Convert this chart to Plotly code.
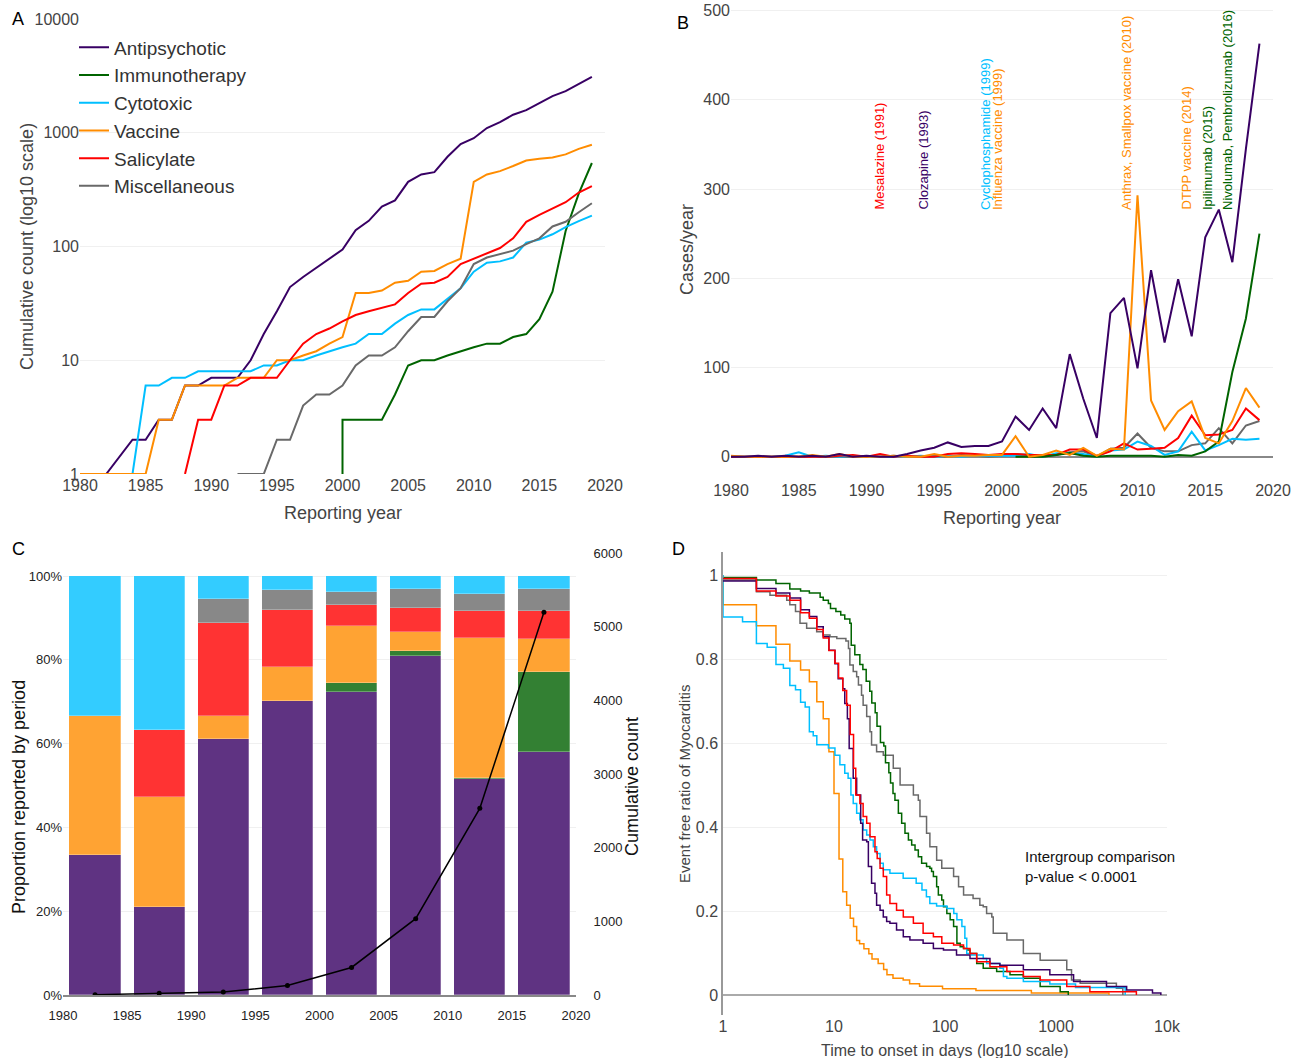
import plotly.graph_objects as go

W, H = 1296, 1058
def fx(px):
    return px / W
def fy(py):
    return 1 - py / H

FONT = "Liberation Sans, Arial, sans-serif"

# ---------------- colours ----------------
COL = {
    "Antipsychotic": "#380064",
    "Immunotherapy": "#006400",
    "Cytotoxic": "#00BFFF",
    "Vaccine": "#FF8C00",
    "Salicylate": "#FF0000",
    "Miscellaneous": "#696969",
}

# ---------------- Panel A: cumulative counts (log scale) ----------------
anti_years = [1982, 1984, 1985, 1986, 1987, 1988, 1989, 1990, 1991, 1992, 1993, 1994, 1995, 1996,
              1997, 1998, 1999, 2000, 2001, 2002, 2003, 2004, 2005, 2006, 2007, 2008, 2009, 2010,
              2011, 2012, 2013, 2014, 2015, 2016, 2017, 2018, 2019]
anti_cum = [1, 2, 2, 3, 3, 6, 6, 7, 7, 7, 10, 17, 27, 44, 54, 65, 77, 94, 139, 168, 224, 254, 370,
            430, 450, 615, 795, 895, 1100, 1240, 1440, 1580, 1820, 2100, 2320, 2670, 3100]

immuno_years = [2000, 2000, 2001, 2002, 2003, 2004, 2005, 2006, 2007, 2008, 2009, 2010, 2011, 2012,
                2013, 2014, 2015, 2016, 2017, 2018, 2019]
immuno_cum = [1, 3, 3, 3, 3, 5, 9, 10, 10, 11, 12, 13, 14, 14, 16, 17, 23, 40, 137, 292, 542]

cyto_years = list(range(1984, 2020))
cyto_cum = [1, 6, 6, 7, 7, 8, 8, 8, 8, 8, 9, 9, 10, 10, 11, 12, 13, 14, 17, 17, 21, 25, 28, 28, 35,
            43, 60, 72, 74, 80, 108, 115, 128, 148, 167, 187]

vacc_years = list(range(1980, 2020))
vacc_cum = [1, 1, 1, 1, 1, 1, 3, 3, 6, 6, 6, 6, 7, 7, 7, 10, 10, 11, 12, 14, 16, 39, 39, 41, 48, 50,
            60, 61, 70, 78, 370, 430, 460, 510, 570, 590, 605, 645, 722, 785]

sali_years = list(range(1988, 2020))
sali_cum = [1, 3, 3, 6, 6, 7, 7, 7, 10, 14, 17, 19, 22, 25, 27, 29, 31, 39, 47, 48, 54, 70, 78, 87,
            97, 118, 165, 190, 215, 245, 298, 340]

misc_years = list(range(1992, 2020))
misc_cum = [1, 1, 1, 2, 2, 4, 5, 5, 6, 9, 11, 11, 13, 18, 24, 24, 33, 43, 70, 80, 86, 92, 105, 118,
            150, 165, 200, 240]

# ---------------- Panel B: cases per year ----------------
yearly_years = list(range(1980, 2020))
anti_yearly = [0, 0, 1, 0, 1, 0, 1, 0, 3, 0, 1, 0, 0, 3, 7, 10, 16, 11, 12, 12, 17, 45, 30, 54, 32,
               115, 65, 21, 161, 178, 99, 209, 128, 199, 135, 246, 277, 218, 345, 463]
vacc_yearly = [1, 0, 0, 0, 0, 0, 2, 0, 3, 0, 0, 0, 1, 0, 0, 3, 0, 1, 1, 2, 2, 23, 0, 2, 7, 2, 10,
               1, 9, 8, 293, 63, 30, 51, 62, 21, 15, 40, 77, 55]
sali_yearly = [0, 0, 0, 0, 0, 0, 0, 0, 1, 2, 0, 3, 0, 1, 0, 0, 3, 4, 3, 2, 3, 3, 2, 2, 2, 8, 8, 1,
               6, 15, 8, 9, 10, 21, 46, 24, 25, 30, 54, 41]
cyto_yearly = [0, 0, 0, 0, 1, 5, 0, 1, 0, 1, 0, 0, 0, 0, 1, 0, 1, 0, 1, 1, 1, 1, 3, 0, 4, 4, 3, 0,
               7, 8, 17, 12, 2, 6, 28, 7, 13, 20, 19, 20]
misc_yearly = [0, 0, 0, 0, 0, 0, 0, 0, 0, 0, 0, 0, 1, 0, 0, 1, 0, 2, 1, 0, 1, 3, 2, 0, 2, 5, 6, 0,
               9, 10, 26, 10, 6, 6, 13, 15, 32, 15, 35, 40]
immuno_yearly_years = list(range(2001, 2020))
immuno_yearly = [0, 0, 0, 2, 4, 1, 0, 1, 1, 1, 1, 0, 2, 1, 6, 17, 95, 155, 250]

# ---------------- Panel C: proportions by 5-year period ----------------
period_centres = [1982.5, 1987.5, 1992.5, 1997.5, 2002.5, 2007.5, 2012.5, 2017.5]
prop_anti = [33.3, 20.9, 61.0, 70.1, 72.3, 81.0, 51.6, 57.9]
prop_immuno = [0, 0, 0, 0, 2.1, 1.1, 0.2, 19.2]
prop_vacc = [33.3, 26.4, 5.7, 8.1, 13.7, 4.5, 33.4, 7.9]
prop_sali = [0, 15.9, 22.2, 13.8, 4.9, 5.7, 6.4, 6.6]
prop_misc = [0, 0, 5.6, 4.6, 3.3, 4.5, 4.0, 5.4]
prop_cyto = [33.4, 36.8, 5.5, 3.4, 3.7, 3.2, 4.4, 3.0]
period_cumulative = [4, 23, 41, 128, 374, 1036, 2534, 5196]

# ---------------- Panel D: Kaplan-Meier (time to onset) ----------------
km_anti_t = [1, 2, 3, 4, 5, 6, 7, 8, 9, 10.2, 10.9, 12, 12.5, 13.2, 13.7, 14.9, 16, 17.4, 18.1, 19.7,
             20.4, 21.8, 23.4, 24.2, 26, 27.8, 29.8, 31.9, 36.6, 42.1, 48.3, 63.5, 78.6, 96.9, 127,
             168, 254, 312, 508, 880, 1440, 2850, 4330, 7400, 8800]
km_anti_s = [0.986, 0.968, 0.957, 0.945, 0.917, 0.901, 0.877, 0.853, 0.821, 0.789, 0.753, 0.729,
             0.694, 0.658, 0.587, 0.516, 0.476, 0.409, 0.369, 0.365, 0.306, 0.266, 0.242, 0.214,
             0.202, 0.186, 0.175, 0.171, 0.155, 0.139, 0.131, 0.123, 0.111, 0.107, 0.095, 0.087,
             0.075, 0.071, 0.060, 0.048, 0.032, 0.020, 0.012, 0.005, 0.0]

km_immuno_t = [1, 2, 3, 4, 5, 6, 7.5, 8, 8.9, 9.3, 10.4, 11.5, 12.5, 13.9, 14.3, 15.4, 17.1, 18.2,
               19.5, 21, 21.9, 23.5, 24.4, 26.2, 28.1, 29.1, 31.2, 32.3, 34, 35.4, 38, 40.7, 43.6,
               46.8, 50.1, 53.7, 57.5, 61.6, 68.2, 73.1, 75.7, 78.6, 84.1, 87.1, 93.5, 96.9, 103.9,
               111.3, 119.5, 128, 137, 147, 157, 168, 193, 221, 292, 385, 508, 720, 1090, 1290]
km_immuno_s = [0.994, 0.988, 0.98, 0.967, 0.962, 0.957, 0.947, 0.94, 0.932, 0.92, 0.913, 0.905,
               0.895, 0.885, 0.833, 0.81, 0.787, 0.775, 0.747, 0.723, 0.695, 0.672, 0.64, 0.601,
               0.593, 0.553, 0.529, 0.505, 0.48, 0.464, 0.433, 0.409, 0.385, 0.369, 0.357, 0.345,
               0.329, 0.314, 0.306, 0.302, 0.294, 0.282, 0.258, 0.238, 0.226, 0.21, 0.194, 0.179,
               0.163, 0.123, 0.115, 0.111, 0.107, 0.099, 0.075, 0.064, 0.056, 0.048, 0.04, 0.02,
               0.008, 0.0]

km_cyto_t = [1, 1, 1.5, 2, 2.5, 3, 3.5, 4, 4.5, 5, 5.5, 6, 6.5, 7, 8.9, 10.2, 11.3, 12.5, 13.4,
             14.2, 14.9, 16, 17.1, 18.3, 19.7, 21.1, 22.6, 24.2, 26, 27.8, 31.9, 42, 55, 62, 68, 73,
             84, 104, 120, 128, 142, 151, 157, 174, 221, 237, 312, 336, 361, 508, 880, 1500, 4200]
km_cyto_s = [1.0, 0.900, 0.889, 0.837, 0.828, 0.787, 0.778, 0.737, 0.727, 0.697, 0.686, 0.627,
             0.617, 0.596, 0.588, 0.571, 0.548, 0.528, 0.516, 0.476, 0.456, 0.433, 0.417, 0.393,
             0.381, 0.369, 0.353, 0.337, 0.314, 0.298, 0.29, 0.278, 0.266, 0.25, 0.234, 0.218,
             0.212, 0.206, 0.194, 0.179, 0.163, 0.135, 0.099, 0.095, 0.087, 0.075, 0.064, 0.044,
             0.040, 0.032, 0.026, 0.018, 0.0]

km_vacc_t = [1, 1, 2, 3, 4, 5, 6, 7, 8, 9, 10, 11.1, 12, 13, 14, 15, 16, 17, 18.6, 20.6, 22, 25,
             28, 30, 34, 42, 48, 59, 95, 190, 600, 3000]
km_vacc_s = [1.0, 0.929, 0.879, 0.835, 0.795, 0.774, 0.746, 0.698, 0.658, 0.579, 0.48, 0.324,
             0.246, 0.214, 0.183, 0.163, 0.13, 0.122, 0.11, 0.098, 0.086, 0.075, 0.061, 0.048,
             0.04, 0.036, 0.027, 0.021, 0.015, 0.011, 0.005, 0.0]

km_sali_t = [1, 2, 3, 4, 5, 6, 7, 8, 9, 10.2, 11, 12, 13, 14, 15, 15.7, 17.1, 18.3, 19.7, 21.1,
             23.4, 24.5, 26, 27.8, 29.8, 31.9, 36.6, 42.1, 51.9, 63.5, 78.6, 93.6, 119.5, 147, 168,
             193, 254, 361, 508, 720, 1250, 2020, 5300]
km_sali_s = [0.992, 0.962, 0.95, 0.94, 0.91, 0.897, 0.87, 0.85, 0.82, 0.79, 0.755, 0.725, 0.69,
             0.62, 0.54, 0.476, 0.456, 0.425, 0.409, 0.377, 0.341, 0.325, 0.302, 0.282, 0.238,
             0.218, 0.202, 0.186, 0.171, 0.147, 0.139, 0.123, 0.119, 0.111, 0.099, 0.079, 0.067,
             0.056, 0.044, 0.036, 0.020, 0.008, 0.0]

km_misc_t = [1, 2, 2.65, 3.75, 4, 4.5, 4.94, 5.67, 6.98, 8, 9.2, 10.6, 12.8, 13.5, 13.9, 14.9, 16,
             16.6, 17.7, 18.3, 19.7, 21.1, 21.8, 24.2, 27.8, 34.2, 39.4, 51.9, 57.5, 59.5, 68.2,
             73.1, 84.1, 93.5, 119.5, 132.5, 147, 179, 206, 221, 237, 264, 272, 361, 508, 720,
             1250, 1380, 1650, 3500, 4000]
km_misc_s = [0.988, 0.96, 0.952, 0.94, 0.929, 0.913, 0.885, 0.873, 0.865, 0.857, 0.853, 0.849,
             0.843, 0.825, 0.786, 0.77, 0.758, 0.738, 0.714, 0.69, 0.663, 0.627, 0.595, 0.579,
             0.571, 0.54, 0.5, 0.476, 0.464, 0.425, 0.385, 0.353, 0.321, 0.302, 0.282, 0.258,
             0.238, 0.23, 0.214, 0.21, 0.194, 0.186, 0.147, 0.131, 0.099, 0.083, 0.06, 0.036,
             0.028, 0.016, 0.0]

fig = go.Figure()

# ---- Panel A traces ----
series_A = [
    ("Antipsychotic", anti_years, anti_cum),
    ("Immunotherapy", immuno_years, immuno_cum),
    ("Cytotoxic", cyto_years, cyto_cum),
    ("Vaccine", vacc_years, vacc_cum),
    ("Salicylate", sali_years, sali_cum),
    ("Miscellaneous", misc_years, misc_cum),
]
for name, xs, ys in series_A:
    fig.add_trace(go.Scatter(x=xs, y=ys, mode="lines", name=name,
                             line=dict(color=COL[name], width=2),
                             xaxis="x", yaxis="y", showlegend=True))

# ---- Panel B traces ----
series_B = [
    ("Miscellaneous", yearly_years, misc_yearly),
    ("Cytotoxic", yearly_years, cyto_yearly),
    ("Salicylate", yearly_years, sali_yearly),
    ("Immunotherapy", immuno_yearly_years, immuno_yearly),
    ("Vaccine", yearly_years, vacc_yearly),
    ("Antipsychotic", yearly_years, anti_yearly),
]
for name, xs, ys in series_B:
    fig.add_trace(go.Scatter(x=xs, y=ys, mode="lines", name=name,
                             line=dict(color=COL[name], width=2),
                             xaxis="x2", yaxis="y2", showlegend=False))

# ---- Panel C traces ----
BAR_COL = {
    "Antipsychotic": "#5F3382",
    "Immunotherapy": "#338033",
    "Vaccine": "#FFA333",
    "Salicylate": "#FF3333",
    "Miscellaneous": "#888888",
    "Cytotoxic": "#33CCFF",
}
series_C = [
    ("Antipsychotic", prop_anti),
    ("Immunotherapy", prop_immuno),
    ("Vaccine", prop_vacc),
    ("Salicylate", prop_sali),
    ("Miscellaneous", prop_misc),
    ("Cytotoxic", prop_cyto),
]
for name, vals in series_C:
    fig.add_trace(go.Bar(x=period_centres, y=[v / 100 for v in vals], width=4,
                         marker=dict(color=BAR_COL[name], line=dict(width=0.6, color="rgba(255,255,255,0.45)")),
                         name=name, xaxis="x3", yaxis="y3", showlegend=False))
fig.add_trace(go.Scatter(x=period_centres, y=period_cumulative, mode="lines+markers",
                         line=dict(color="black", width=1.5), marker=dict(color="black", size=5),
                         xaxis="x3", yaxis="y5", showlegend=False))

# ---- Panel D traces ----
series_D = [
    ("Vaccine", km_vacc_t, km_vacc_s),
    ("Miscellaneous", km_misc_t, km_misc_s),
    ("Immunotherapy", km_immuno_t, km_immuno_s),
    ("Cytotoxic", km_cyto_t, km_cyto_s),
    ("Antipsychotic", km_anti_t, km_anti_s),
    ("Salicylate", km_sali_t, km_sali_s),
]
for name, ts, ss in series_D:
    fig.add_trace(go.Scatter(x=ts, y=ss, mode="lines", line_shape="hv",
                             line=dict(color=COL[name], width=1.5),
                             xaxis="x4", yaxis="y4", showlegend=False))

TICK_COL = "#444"
GRID = "#f0f0f0"
year_ticks = list(range(1980, 2021, 5))

layout = dict(
    width=W, height=H,
    margin=dict(l=0, r=0, t=0, b=0),
    paper_bgcolor="white", plot_bgcolor="white",
    font=dict(family=FONT, color=TICK_COL),
    barmode="stack", bargap=0,
    showlegend=True,
    legend=dict(x=fx(74), y=fy(28.5), xanchor="left", yanchor="top", traceorder="normal",
                font=dict(size=19, color="#333"), bgcolor="rgba(255,255,255,0)",
                tracegroupgap=0, itemwidth=30),
    # Panel A
    xaxis=dict(domain=[fx(80), fx(605)], range=[1980, 2020], tickvals=year_ticks, automargin=False,
               showgrid=False, zeroline=False, showline=False, ticks="",
               tickfont=dict(size=16, color=TICK_COL), anchor="y"),
    yaxis=dict(domain=[fy(474), fy(19)], type="log", range=[0, 4], automargin=False,
               tickvals=[1, 10, 100, 1000, 10000], ticktext=["1", "10", "100", "1000", "10000"],
               showgrid=True, gridcolor=GRID, zeroline=False, ticks="",
               tickfont=dict(size=16, color=TICK_COL), anchor="x"),
    # Panel B
    xaxis2=dict(domain=[fx(731), fx(1273)], range=[1980, 2020], tickvals=year_ticks, automargin=False,
                showgrid=False, zeroline=False, ticks="",
                tickfont=dict(size=16, color=TICK_COL), anchor="y2"),
    yaxis2=dict(domain=[fy(479), fy(8)], range=[-25, 503], tickvals=[0, 100, 200, 300, 400, 500],
                automargin=False,
                showgrid=True, gridcolor=GRID, zeroline=True, zerolinecolor="#888", zerolinewidth=1.5,
                ticks="", tickfont=dict(size=16, color=TICK_COL), anchor="x2"),
    # Panel C
    xaxis3=dict(domain=[fx(63), fx(576)], range=[1980, 2020], tickvals=year_ticks, automargin=False,
                showgrid=False, zeroline=False, showline=True, linecolor="#888", linewidth=1.5,
                ticks="outside", ticklen=8, tickcolor="rgba(0,0,0,0)",
                tickfont=dict(size=13, color="#222"), anchor="y3"),
    yaxis3=dict(domain=[fy(995), fy(553)], range=[0, 1.055], automargin=False,
                tickvals=[0, 0.2, 0.4, 0.6, 0.8, 1.0], ticktext=["0%", "20%", "40%", "60%", "80%", "100%"],
                showgrid=True, gridcolor=GRID, zeroline=False, ticks="",
                tickfont=dict(size=13, color="#222"), anchor="x3"),
    yaxis5=dict(overlaying="y3", side="right", range=[0, 6000], tickvals=[0, 1000, 2000, 3000, 4000, 5000, 6000],
                automargin=False,
                showgrid=False, zeroline=False, ticks="outside", ticklen=14, tickcolor="rgba(0,0,0,0)",
                tickfont=dict(size=13, color="#222"), anchor="x3"),
    # Panel D
    xaxis4=dict(domain=[fx(723), fx(1167)], type="log", range=[0, 4], automargin=False,
                tickvals=[1, 10, 100, 1000, 10000], ticktext=["1", "10", "100", "1000", "10k"],
                showgrid=False, zeroline=False, showline=False, ticks="",
                tickfont=dict(size=16, color=TICK_COL), anchor="y4"),
    yaxis4=dict(domain=[fy(1015), fy(552)], range=[-0.0476, 1.0548], automargin=False,
                tickvals=[0, 0.2, 0.4, 0.6, 0.8, 1.0], ticktext=["0", "0.2", "0.4", "0.6", "0.8", "1"],
                showgrid=True, gridcolor=GRID, zeroline=True, zerolinecolor="#aaa", zerolinewidth=2,
                showline=True, linecolor="#999", linewidth=1.5, ticks="",
                tickfont=dict(size=16, color=TICK_COL), anchor="x4"),
)
fig.update_layout(**layout)

annotations = []
def add_text(text, px, py, size, color, angle=0, xanchor="center", yanchor="middle", align="center"):
    annotations.append(dict(text=text, x=fx(px), y=fy(py), xref="paper", yref="paper",
                            showarrow=False, textangle=angle, align=align,
                            font=dict(size=size, color=color), xanchor=xanchor, yanchor=yanchor))

# panel letters
for letter, px, py in [("A", 18, 19), ("B", 683, 23), ("C", 18, 549), ("D", 678, 549)]:
    add_text(letter, px, py, 18, "black")

# axis titles
add_text("Cumulative count (log10 scale)", 27, 247, 18, TICK_COL, angle=-90)
add_text("Reporting year", 343, 513, 18, TICK_COL)
add_text("Cases/year", 687, 250, 18, TICK_COL, angle=-90)
add_text("Reporting year", 1002, 518, 18, TICK_COL)
add_text("Proportion reported by period", 19, 797, 18, "#111", angle=-90)
add_text("Cumulative count", 632, 787, 18, "#111", angle=-90)
add_text("Event free ratio of Myocarditis", 684, 784, 15, TICK_COL, angle=-90)
add_text("Time to onset in days (log10 scale)", 945, 1050, 16, TICK_COL)

# Panel B drug labels (rotated)
drug_labels = [
    ("Mesalazine (1991)", "Salicylate", 879),
    ("Clozapine (1993)", "Antipsychotic", 923),
    ("Cyclophosphamide (1999)", "Cytotoxic", 985),
    ("Influenza vaccine (1999)", "Vaccine", 997),
    ("Anthrax, Smallpox vaccine (2010)", "Vaccine", 1126),
    ("DTPP vaccine (2014)", "Vaccine", 1186),
    ("Ipilimumab (2015)", "Immunotherapy", 1207),
    ("Nivolumab, Pembrolizumab (2016)", "Immunotherapy", 1227),
]
for text, grp, px in drug_labels:
    add_text(text, px, 212, 13, COL[grp], angle=-90, yanchor="bottom")

add_text("Intergroup comparison<br>p-value < 0.0001", 1023, 866, 15, "#111",
         xanchor="left", align="left")

fig.update_layout(annotations=annotations)
# remove the default page margin so the figure fills the window exactly; hide the mode bar
fig.write_html("out.html", config={"displayModeBar": False},
               post_script="document.body.style.margin='0';document.body.style.overflow='hidden';")
